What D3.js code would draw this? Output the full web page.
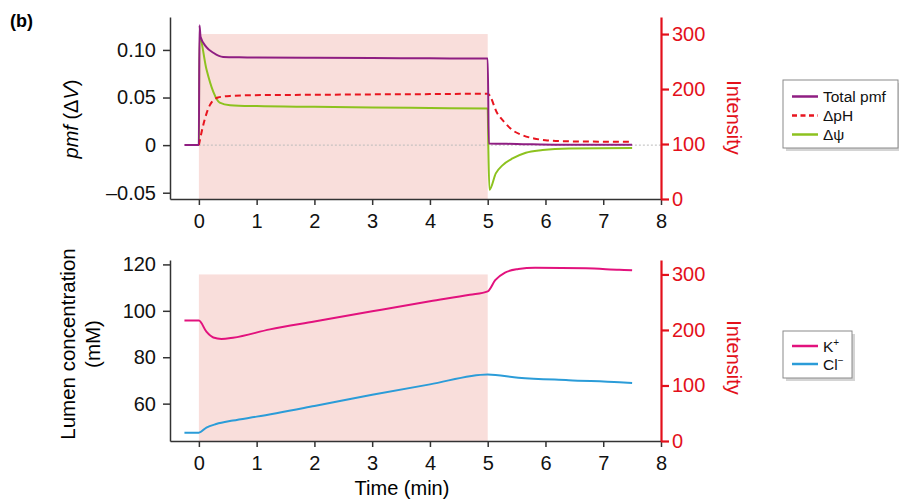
<!DOCTYPE html>
<html>
<head>
<meta charset="utf-8">
<script src="https://cdn.jsdelivr.net/npm/d3@7"></script>
<style>
  body { margin: 0; background: #fff; }
  svg { font-family: "Liberation Sans", Arial, sans-serif; }
</style>
</head>
<body>
<script>
// ---- data ----
const xTicks = [0, 1, 2, 3, 4, 5, 6, 7, 8];
const pmfTicks = [-0.05, 0, 0.05, 0.10];
const pmfTickLabels = ["\u20130.05", "0", "0.05", "0.10"];
const concTicks = [60, 80, 100, 120];
const intensityTicks = [0, 100, 200, 300];

// light on between these times, at this intensity
const lightOn = [0, 5];
const lightLevel = 300;

// top panel
const pmfTime = [-0.25, 0, 0.01, 0.03, 0.13, 0.25, 0.42, 0.7, 1, 2, 3, 4, 5, 5.02, 5.5, 6.25, 7.5];
const pmfVal  = [0, 0, 0.126, 0.1135, 0.103, 0.097, 0.0925, 0.0922, 0.0921, 0.0918, 0.0915, 0.0912, 0.0909, 0.0017, 0.0012, 0.0003, 0.0003];

const dpHTime = [0, 0.075, 0.19, 0.33, 0.54, 0.88, 2, 3, 4, 5, 5.17, 5.29, 5.43, 5.6, 5.8, 6.0, 6.25, 7, 7.5];
const dpHVal  = [0, 0.021, 0.042, 0.050, 0.0517, 0.0524, 0.0529, 0.0533, 0.0536, 0.054, 0.033, 0.024, 0.0157, 0.0105, 0.007, 0.0052, 0.0042, 0.0036, 0.0035];

const dPsiTime = [0, 0.01, 0.13, 0.25, 0.36, 0.54, 1, 2, 3, 4, 5, 5.01, 5.03, 5.14, 5.26, 5.43, 5.66, 5.95, 6.41, 7.5];
const dPsiVal  = [0, 0.1135, 0.080, 0.056, 0.0447, 0.042, 0.041, 0.0402, 0.0395, 0.039, 0.0385, 0.0, -0.047, -0.0297, -0.021, -0.014, -0.008, -0.0052, -0.0035, -0.003];

// bottom panel
const kTime = [-0.25, 0, 0.13, 0.25, 0.39, 0.59, 1.23, 2, 3, 4, 4.69, 5, 5.13, 5.3, 5.53, 5.82, 6.28, 6.7, 7.28, 7.5];
const kVal  = [95.8, 95.8, 91.0, 88.5, 87.9, 88.4, 92.0, 95.4, 99.8, 104.1, 106.9, 108.4, 113.2, 116.5, 118.0, 118.6, 118.5, 118.3, 117.7, 117.5];

const clTime = [-0.25, 0, 0.13, 0.3, 0.59, 1, 2, 3, 4, 5, 5.53, 6.4, 7.28, 7.5];
const clVal  = [47.5, 47.5, 49.7, 51.2, 52.7, 54.4, 59.0, 63.8, 68.3, 72.6, 71.2, 70.1, 69.2, 68.9];

// ---- drawing ----
const width = 899, height = 502;
const red = "#e3101b";
const shade = "#f9dedb";
const axisGrey = "#333";

const svg = d3.select("body").append("svg")
  .attr("width", width)
  .attr("height", height);

const x = d3.scaleLinear().domain([-0.5, 8]).range([170, 661]);

function zip(t, v) { return t.map((d, i) => [d, v[i]]); }

function panel(opts) {
  const g = svg.append("g");
  const yL = opts.yL, yR = opts.yR;

  // light period
  g.append("rect")
    .attr("x", x(lightOn[0]))
    .attr("y", yR(lightLevel))
    .attr("width", x(lightOn[1]) - x(lightOn[0]))
    .attr("height", yR(0) - yR(lightLevel))
    .attr("fill", shade);

  if (opts.zeroLine) {
    g.append("line")
      .attr("x1", x(0)).attr("x2", x(8))
      .attr("y1", yL(0)).attr("y2", yL(0))
      .attr("stroke", "#bbb")
      .attr("stroke-width", 1)
      .attr("stroke-dasharray", "2,2");
  }

  const line = d3.line()
    .x(d => x(d[0]))
    .y(d => yL(d[1]))
    .curve(d3.curveMonotoneX);

  opts.series.forEach(s => {
    g.append("path")
      .datum(zip(s.t, s.v))
      .attr("d", line)
      .attr("fill", "none")
      .attr("stroke", s.color)
      .attr("stroke-width", 2)
      .attr("stroke-dasharray", s.dash || null);
  });

  // axes
  const bottom = yL.range()[0];
  const ax = g.append("g")
    .attr("transform", `translate(0,${bottom})`)
    .call(d3.axisBottom(x).tickValues(xTicks).tickSize(6).tickSizeOuter(0).tickPadding(9));
  ax.select(".domain").attr("stroke", axisGrey).attr("stroke-width", 1.5);
  ax.selectAll(".tick line").attr("stroke", axisGrey).attr("stroke-width", 1.5);
  ax.selectAll("text").attr("font-size", 20).attr("fill", "#111");

  const al = g.append("g")
    .attr("transform", `translate(${x(-0.5)},0)`)
    .call(d3.axisLeft(yL).tickValues(opts.leftTicks).tickSize(7).tickSizeOuter(0).tickPadding(7)
      .tickFormat((d, i) => opts.leftLabels ? opts.leftLabels[i] : d));
  al.select(".domain").attr("stroke", axisGrey).attr("stroke-width", 1.5);
  al.selectAll(".tick line").attr("stroke", axisGrey).attr("stroke-width", 1.5);
  al.selectAll("text").attr("font-size", 20).attr("fill", "#111");

  const ar = g.append("g")
    .attr("transform", `translate(${x(8)},0)`)
    .call(d3.axisRight(yR).tickValues(intensityTicks).tickSize(8).tickSizeOuter(0).tickPadding(3));
  ar.select(".domain").attr("stroke", red).attr("stroke-width", 2.2);
  ar.selectAll(".tick line").attr("stroke", red).attr("stroke-width", 2.2);
  ar.selectAll("text").attr("font-size", 20).attr("fill", red);

  // right title
  g.append("text")
    .attr("transform", `translate(727,${opts.intensityY}) rotate(90)`)
    .attr("text-anchor", "middle")
    .attr("font-size", 20)
    .attr("fill", red)
    .text("Intensity");

  // legend
  const lg = svg.append("g");
  const L = opts.legend;
  lg.append("rect")
    .attr("x", L.x + 3).attr("y", L.y + 3)
    .attr("width", L.w).attr("height", L.h)
    .attr("fill", "#d4d4d4");
  lg.append("rect")
    .attr("x", L.x).attr("y", L.y)
    .attr("width", L.w).attr("height", L.h)
    .attr("fill", "#fff")
    .attr("stroke", "#8a8a8a")
    .attr("stroke-width", 1);
  L.items.forEach((it, i) => {
    const yy = L.y0 + i * L.step;
    lg.append("line")
      .attr("x1", L.x + 9).attr("x2", L.x + 35)
      .attr("y1", yy).attr("y2", yy)
      .attr("stroke", it.color)
      .attr("stroke-width", 2.5)
      .attr("stroke-dasharray", it.dash || null);
    const t = lg.append("text")
      .attr("x", L.x + 40).attr("y", yy + 5.5)
      .attr("font-size", 15.5)
      .attr("fill", "#111");
    it.label(t);
  });
}

const purple = "#8f1e82", dashRed = "#e8151f", green = "#8dc21f";
const magenta = "#e2127d", blue = "#2b9cd8";

// top panel
panel({
  yL: d3.scaleLinear().domain([-0.0566, 0.1346]).range([199, 17]),
  yR: d3.scaleLinear().domain([0, 331]).range([199, 17]),
  leftTicks: pmfTicks,
  leftLabels: pmfTickLabels,
  zeroLine: true,
  intensityY: 117.5,
  series: [
    { t: dPsiTime, v: dPsiVal, color: green },
    { t: dpHTime, v: dpHVal, color: dashRed, dash: "6,4" },
    { t: pmfTime, v: pmfVal, color: purple }
  ],
  legend: {
    x: 783, y: 80, w: 115, h: 68, y0: 96.5, step: 19,
    items: [
      { color: purple, label: t => t.text("Total pmf") },
      { color: dashRed, dash: "5,3.5", label: t => t.text("\u0394pH") },
      { color: green, label: t => t.text("\u0394\u03c8") }
    ]
  }
});

// bottom panel
panel({
  yL: d3.scaleLinear().domain([43.9, 121.9]).range([441, 260]),
  yR: d3.scaleLinear().domain([0, 326]).range([441, 260]),
  leftTicks: concTicks,
  zeroLine: false,
  intensityY: 357.5,
  series: [
    { t: clTime, v: clVal, color: blue },
    { t: kTime, v: kVal, color: magenta }
  ],
  legend: {
    x: 783, y: 331, w: 69, h: 47, y0: 346, step: 18,
    items: [
      { color: magenta, label: t => { t.append("tspan").text("K"); t.append("tspan").attr("dy", -6).attr("font-size", 10).text("+"); } },
      { color: blue, label: t => { t.append("tspan").text("Cl"); t.append("tspan").attr("dy", -6).attr("font-size", 10).text("\u2212"); } }
    ]
  }
});

// titles
svg.append("text")
  .attr("x", 10).attr("y", 26.5)
  .attr("font-size", 18)
  .attr("font-weight", "bold")
  .text("(b)");

const pmfTitle = svg.append("text")
  .attr("transform", "translate(78,119) rotate(-90)")
  .attr("text-anchor", "middle")
  .attr("font-size", 20);
pmfTitle.append("tspan").attr("font-style", "italic").text("pmf");
pmfTitle.append("tspan").text(" (\u0394");
pmfTitle.append("tspan").attr("font-style", "italic").text("V");
pmfTitle.append("tspan").text(")");

const concTitle = svg.append("text")
  .attr("transform", "translate(75,344) rotate(-90)")
  .attr("text-anchor", "middle")
  .attr("font-size", 20.5);
concTitle.append("tspan").attr("x", 0).attr("dy", 0).text("Lumen concentration");
concTitle.append("tspan").attr("x", 0).attr("dy", 25).text("(mM)");

svg.append("text")
  .attr("x", 402).attr("y", 495)
  .attr("text-anchor", "middle")
  .attr("font-size", 20)
  .text("Time (min)");
</script>
</body>
</html>
